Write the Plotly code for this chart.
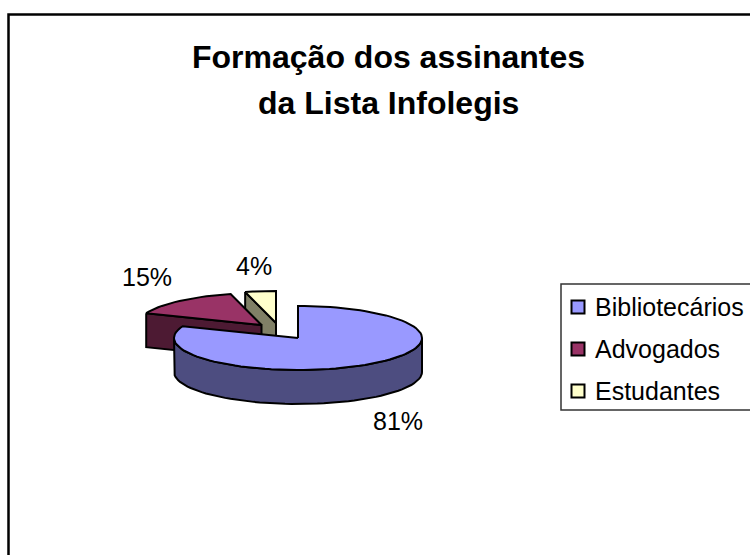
import numpy as np
import plotly.graph_objects as go

categories = ["Bibliotecários", "Advogados", "Estudantes"]
values = [81, 15, 4]
title_lines = ["Formação dos assinantes", "da Lista Infolegis"]

top_colors = ["#9999FF", "#993366", "#FFFFCC"]
wall_colors = ["#4D4D80", "#4D1A33", "#808066"]
centers = [(298, 338), (261.5, 325), (276, 323)]
label_pos = [(398, 421), (147, 277), (254, 266)]
legend_y = [307, 349, 391]
RX, RY, DEPTH = 124, 32, 34
FONT = "Liberation Sans, Arial, sans-serif"


def pt(c, deg, dy=0):
    a = np.radians(deg)
    return c[0] + RX * np.sin(a), c[1] - RY * np.cos(a) + dy


def arc(c, a0, a1, dy=0):
    angs = np.linspace(a0, a1, max(int(abs(a1 - a0) / 3), 2) + 1)
    return pt(c, angs, dy)


def poly(xs, ys, color):
    return go.Scatter(
        x=list(xs) + [xs[0]], y=list(ys) + [ys[0]], mode="lines", fill="toself",
        fillcolor=color, line=dict(color="black", width=2), hoverinfo="skip", showlegend=False,
    )


edges = np.cumsum([0] + values) * 3.6
fig = go.Figure()

# Estudantes (back), Advogados, then Bibliotecários in front
for i in [2, 1, 0]:
    c, a0, a1 = centers[i], edges[i], edges[i + 1]
    if i == 0:
        # outer wall: front half of the rim
        xt, yt = arc(c, 90, 270)
        xb, yb = arc(c, 270, 90, DEPTH)
        fig.add_trace(poly(np.r_[xt, xb], np.r_[yt, yb], wall_colors[i]))
    else:
        # cut wall facing the viewer
        x0, y0 = pt(c, a0)
        fig.add_trace(poly([x0, c[0], c[0], x0], [y0, c[1], c[1] + DEPTH, y0 + DEPTH], wall_colors[i]))
    xa, ya = arc(c, a0, a1)
    fig.add_trace(poly(np.r_[c[0], xa], np.r_[c[1], ya], top_colors[i]))

# Legend swatches
fig.add_trace(go.Scatter(
    x=[578] * 3, y=legend_y, mode="markers", hoverinfo="skip", showlegend=False,
    marker=dict(symbol="square", size=13, color=top_colors, line=dict(color="black", width=2)),
))

ann = [dict(x=p[0], y=p[1], text=f"{v}%", showarrow=False, xanchor="center", yanchor="middle",
            font=dict(family=FONT, size=25, color="black"))
       for p, v in zip(label_pos, values)]
ann += [dict(x=593, y=y, text=n, showarrow=False, xanchor="left", yanchor="middle",
             font=dict(family=FONT, size=25, color="black"))
        for n, y in zip(categories, legend_y)]
ann += [dict(x=388, y=y, text=t, showarrow=False, xanchor="center", yanchor="middle",
             font=dict(family=FONT, size=32, color="black", weight="bold"))
        for t, y in zip(title_lines, [57, 103])]

fig.update_layout(
    width=750, height=555, margin=dict(l=0, r=0, t=0, b=0),
    paper_bgcolor="white", plot_bgcolor="white", showlegend=False,
    xaxis=dict(range=[0, 750], visible=False, fixedrange=True),
    yaxis=dict(range=[555, 0], visible=False, fixedrange=True),
    annotations=ann,
    shapes=[
        dict(type="rect", x0=8.5, y0=14.5, x1=800, y1=600, line=dict(color="black", width=2.5), layer="below"),
        dict(type="rect", x0=561, y0=284, x1=800, y1=410, line=dict(color="#333333", width=1.5), layer="below"),
    ],
)
fig.write_html(
    "out.html",
    config={"displayModeBar": False},
    post_script="document.documentElement.style.margin='0';document.documentElement.style.overflow='hidden';document.body.style.margin='0';document.body.style.overflow='hidden';",
)
